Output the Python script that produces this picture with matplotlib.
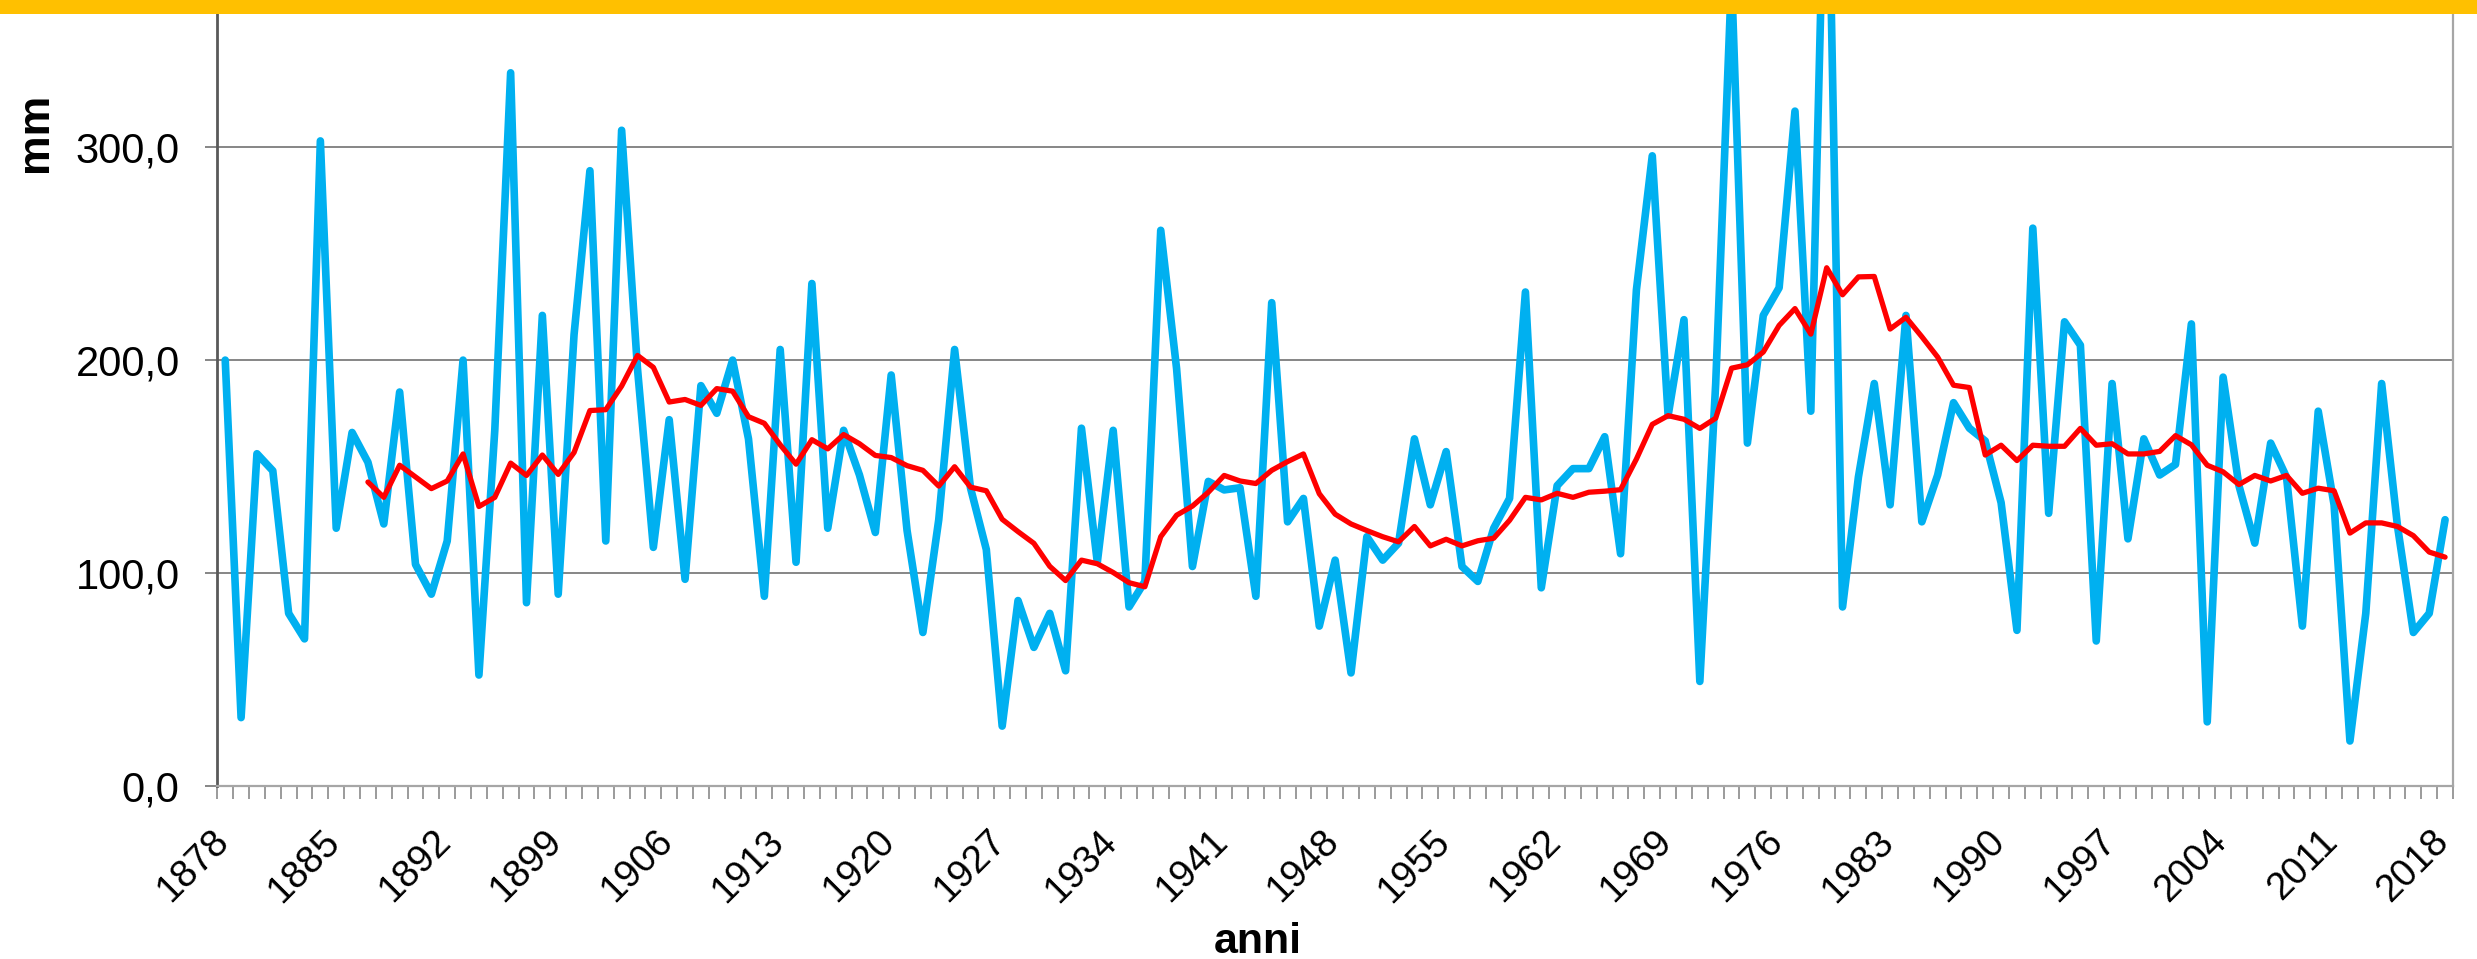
import numpy as np
import matplotlib
matplotlib.use("Agg")
import matplotlib.pyplot as plt
from matplotlib.patches import Rectangle
from matplotlib.ticker import FuncFormatter
import matplotlib.transforms as mtransforms

plt.rcParams['font.family'] = ['Liberation Sans', 'DejaVu Sans']

# ---------------------------------------------------------------
# data: annual values (mm) 1878-2018 and 10-year moving average
# ---------------------------------------------------------------
years = list(range(1878, 2019))

rain = [200, 32, 156, 148, 81, 69, 303, 121, 166, 152,
        123, 185, 104, 90, 115, 200, 52, 167, 335, 86,
        221, 90, 212, 289, 115, 308, 196, 112, 172, 97,
        188, 175, 200, 163, 89, 205, 105, 236, 121, 167,
        146, 119, 193, 120, 72, 125, 205, 140, 111, 28,
        87, 65, 81, 54, 168, 105, 167, 84, 96, 261,
        196, 103, 143, 139, 140, 89, 227, 124, 135, 75,
        106, 53, 117, 106, 114, 163, 132, 157, 103, 96,
        121, 135, 232, 93, 141, 149, 149, 164, 109, 233,
        296, 174, 219, 49, 189, 380, 161, 221, 234, 317,
        176, 480, 84, 145, 189, 132, 221, 124, 146, 180,
        168, 162, 133, 73, 262, 128, 218, 207, 68, 189,
        116, 163, 146, 151, 217, 30, 192, 141, 114, 161,
        145, 75, 176, 132, 21, 81, 189, 122, 72, 81,
        125]

# moving average, first value in 1887
media_start = 1887
media = [142.7, 135.5, 150.6, 145.1, 139.6, 143.2, 155.9, 131.2, 135.5,
         151.6, 145.8, 155.4, 146.3, 156.6, 176.3, 176.7, 187.8, 202.2,
         196.6, 180.3, 181.5, 178.7, 186.6, 185.4, 173.4, 170.3, 160.2,
         151.1, 162.6, 158.3, 165.0, 160.7, 155.2, 154.2, 150.4, 148.2,
         140.8, 149.9, 140.3, 138.6, 125.2, 119.4, 113.9, 103.1, 96.4,
         106.0, 104.3, 100.2, 95.4, 93.5, 117.0, 127.1, 131.4, 137.9,
         145.8, 143.2, 142.0, 148.2, 152.3, 155.9, 137.2, 127.6, 123.0,
         119.9, 117.0, 114.6, 121.8, 112.7, 115.8, 112.7, 115.1, 116.3,
         124.7, 135.5, 134.3, 137.4, 135.5, 137.9, 138.4, 139.1, 153.5,
         169.8, 173.9, 172.2, 167.9, 172.7, 196.2, 197.8, 203.8, 216.3,
         224.2, 212.2, 243.4, 230.7, 239.1, 239.3, 214.6, 220.1, 211.0,
         201.4, 188.2, 187.1, 155.4, 160.0, 152.8, 160.0, 159.5, 159.5,
         167.9, 160.0, 160.7, 155.9, 155.9, 157.1, 164.5, 160.2, 150.6,
         147.5, 141.5, 145.8, 143.2, 145.8, 137.4, 139.8, 138.6, 118.7,
         123.5, 123.5, 121.8, 117.5, 109.8, 107.4]

y_ticks = [0, 100, 200, 300]
label_step = 7

# ---------------------------------------------------------------
# figure
# ---------------------------------------------------------------
W, H = 2477, 959
fig = plt.figure(figsize=(W / 100, H / 100), dpi=100)
ax = fig.add_axes([217.3 / W, (H - 785.7) / H, (2453 - 217.3) / W, 785.7 / H])

x = np.arange(len(years))
x_media = x[years.index(media_start):]

ax.plot(x, rain, color='#00B0F0', linewidth=5.5,
        solid_joinstyle='round', solid_capstyle='round', zorder=3)
ax.plot(x_media, media, color='#FF0000', linewidth=3.8,
        solid_joinstyle='round', solid_capstyle='round', zorder=4)

ax.set_xlim(-0.5, len(years) - 0.5)
ax.set_ylim(0, 785.7 / 2.128)

# y axis
ax.set_yticks(y_ticks)
ax.yaxis.set_major_formatter(FuncFormatter(lambda v, p: f"{v:.1f}".replace('.', ',')))
ax.yaxis.grid(True, color='#666666', linewidth=1.1, zorder=1)
ax.tick_params(axis='y', length=8.6, width=1.1, color='#666666',
               pad=18.5, labelsize=30)

# x axis: tick marks between categories, labels every 7 years
ax.set_xticks(x[::label_step])
ax.set_xticklabels([str(y) for y in years[::label_step]])
ax.set_xticks(np.arange(-0.5, len(years), 1), minor=True)
ax.tick_params(axis='x', which='major', length=0, pad=41.5, labelsize=27.5)
ax.tick_params(axis='x', which='minor', length=9.4, width=1.1, color='#808080')
offset = mtransforms.ScaledTranslation(5 / 100, 0, fig.dpi_scale_trans)
for lab in ax.get_xticklabels():
    lab.set_rotation(45)
    lab.set_rotation_mode('anchor')
    lab.set_ha('right')
    lab.set_va('baseline')
    lab.set_transform(lab.get_transform() + offset)

ax.spines['top'].set_visible(False)
ax.spines['left'].set_color('#595959')
ax.spines['left'].set_linewidth(2.0)
ax.spines['bottom'].set_color('#a6a6a6')
ax.spines['bottom'].set_linewidth(1.6)
ax.spines['right'].set_color('#a6a6a6')
ax.spines['right'].set_linewidth(1.6)

# axis titles
fig.text(1258 / W, 6 / H, 'anni', ha='center', va='baseline',
         fontsize=31, fontweight='bold')
fig.text(35.5 / W, 1 - 132 / H, 'mm', rotation=90, ha='center', va='center',
         fontsize=32, fontweight='bold')

# yellow band at the top
fig.add_artist(Rectangle((0, 1 - 13.5 / H), 1, 13.5 / H, transform=fig.transFigure,
                         facecolor='#FFC000', edgecolor='none', zorder=10))

fig.savefig('out.png', dpi=100)
